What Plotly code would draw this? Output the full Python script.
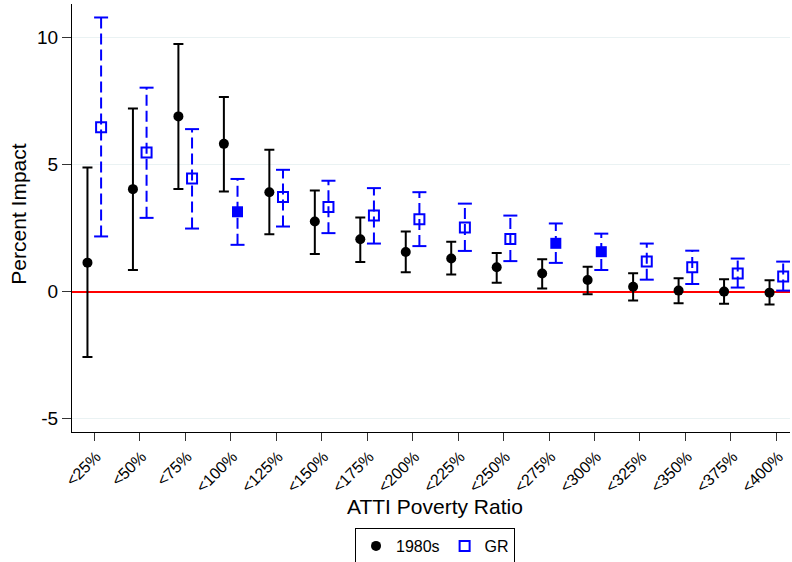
import plotly.graph_objects as go

categories = ["<25%", "<50%", "<75%", "<100%", "<125%", "<150%", "<175%", "<200%",
              "<225%", "<250%", "<275%", "<300%", "<325%", "<350%", "<375%", "<400%"]

e80_est = [1.14, 4.03, 6.89, 5.81, 3.91, 2.76, 2.06, 1.56, 1.30, 0.96, 0.71, 0.46, 0.19, 0.04, 0.00, -0.04]
e80_hi = [4.88, 7.20, 9.74, 7.65, 5.58, 3.98, 2.91, 2.36, 1.96, 1.52, 1.27, 0.98, 0.72, 0.53, 0.49, 0.45]
e80_lo = [-2.57, 0.85, 4.04, 3.94, 2.26, 1.48, 1.16, 0.76, 0.67, 0.35, 0.12, -0.10, -0.35, -0.46, -0.48, -0.51]

gr_est = [6.46, 5.47, 4.45, 3.14, 3.72, 3.33, 2.99, 2.85, 2.52, 2.07, 1.90, 1.57, 1.18, 0.96, 0.71, 0.59]
gr_hi = [10.78, 8.02, 6.39, 4.43, 4.79, 4.36, 4.07, 3.91, 3.46, 2.99, 2.68, 2.28, 1.89, 1.61, 1.30, 1.18]
gr_lo = [2.17, 2.90, 2.48, 1.84, 2.56, 2.30, 1.89, 1.79, 1.60, 1.20, 1.13, 0.85, 0.47, 0.30, 0.16, 0.04]
gr_signif = [False, False, False, True, False, False, False, False,
             False, False, True, True, False, False, False, False]

ytick_vals = [-5, 0, 5, 10]
ytick_text = ["-5", "0", "5", "10"]

FONT = "Liberation Sans, Arial, sans-serif"
BLUE = "#0000FF"
OFF = 0.15

pos = list(range(1, len(categories) + 1))
x80 = [p - OFF for p in pos]
xgr = [p + OFF for p in pos]

fig = go.Figure()

# 1980s: black circles with solid capped CIs
fig.add_trace(go.Scatter(
    x=x80, y=e80_est, mode="markers", name="1980s",
    marker=dict(symbol="circle", size=10, color="black"),
    error_y=dict(type="data", symmetric=False,
                 array=[h - e for h, e in zip(e80_hi, e80_est)],
                 arrayminus=[e - l for e, l in zip(e80_est, e80_lo)],
                 color="black", thickness=2, width=5),
))

# GR: dashed CI lines
lx, ly = [], []
for x, lo, hi in zip(xgr, gr_lo, gr_hi):
    lx += [x, x, None]
    ly += [lo, hi, None]
fig.add_trace(go.Scatter(
    x=lx, y=ly, mode="lines", showlegend=False, hoverinfo="skip",
    line=dict(color=BLUE, width=2, dash="11px,5px"),
))
# GR caps
fig.add_trace(go.Scatter(
    x=xgr + xgr, y=gr_lo + gr_hi, mode="markers", showlegend=False, hoverinfo="skip",
    marker=dict(symbol="line-ew", size=10, line=dict(color=BLUE, width=2)),
))
# GR hollow squares
fig.add_trace(go.Scatter(
    x=[x for x, s in zip(xgr, gr_signif) if not s],
    y=[y for y, s in zip(gr_est, gr_signif) if not s],
    mode="markers", name="GR",
    marker=dict(symbol="square-open", size=10, color=BLUE, line=dict(color=BLUE, width=2)),
))
# GR filled squares
fig.add_trace(go.Scatter(
    x=[x for x, s in zip(xgr, gr_signif) if s],
    y=[y for y, s in zip(gr_est, gr_signif) if s],
    mode="markers", showlegend=False,
    marker=dict(symbol="square", size=11, color=BLUE, line=dict(width=0)),
))

fig.update_layout(
    width=792, height=562,
    margin=dict(l=72, r=2, t=4, b=130, autoexpand=False),
    paper_bgcolor="white", plot_bgcolor="white",
    font=dict(family=FONT, color="black"),
    showlegend=True,
    legend=dict(orientation="h", x=0.5056, xanchor="center", y=-0.2243, yanchor="top",
                bordercolor="black", borderwidth=1, bgcolor="white",
                font=dict(size=16, family=FONT), itemwidth=30),
    xaxis=dict(range=[0.51, 16.30], tickmode="array", tickvals=pos, ticktext=categories,
               tickangle=-45, tickfont=dict(size=16), ticks="outside", ticklen=8,
               tickcolor="#333333", showline=True, linecolor="black", linewidth=1,
               showgrid=False, zeroline=False, automargin=False, ticklabelshift=2),
    yaxis=dict(range=[-5.52, 11.31], tickmode="array", tickvals=ytick_vals, ticktext=ytick_text,
               tickfont=dict(size=19), ticks="outside", ticklen=9, tickcolor="#333333",
               showline=True, linecolor="black", linewidth=1,
               showgrid=True, gridcolor="#eaf2f3", gridwidth=1,
               zeroline=True, zerolinecolor="red", zerolinewidth=2, automargin=False),
    annotations=[
        dict(text="ATTI Poverty Ratio", xref="paper", yref="paper", x=0.5056, y=-0.1729,
             xanchor="center", yanchor="middle", showarrow=False, font=dict(size=21)),
        dict(text="Percent Impact", xref="paper", yref="paper", x=-0.0745, y=0.509,
             xanchor="center", yanchor="middle", showarrow=False, textangle=-90,
             font=dict(size=21)),
    ],
)

fig.write_html("out.html", config={"displayModeBar": False},
               post_script="document.body.style.margin='0';")
